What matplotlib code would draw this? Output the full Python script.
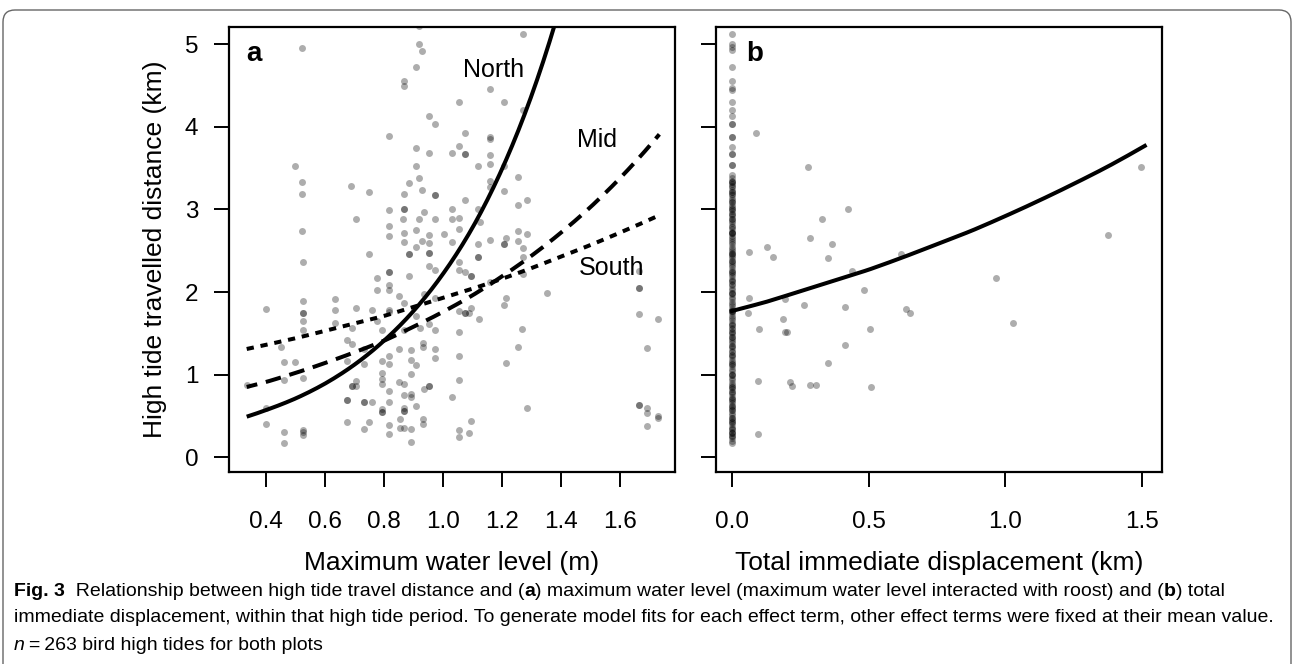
import numpy as np
import matplotlib
matplotlib.use("Agg")
import matplotlib.pyplot as plt
from matplotlib.patches import FancyBboxPatch
from matplotlib.transforms import IdentityTransform

plt.rcParams['font.family'] = ['Liberation Sans', 'DejaVu Sans']

# ---------------- data ----------------
# Panel a: maximum water level (m) vs high tide travelled distance (km)
water_x = [
    0.524, 0.92, 0.928, 0.907, 0.867, 0.867, 0.953, 0.973, 0.818, 0.907, 0.953, 1.03, 0.50, 0.907,
    0.524, 0.92, 0.884, 0.524, 0.69, 0.749, 0.867, 0.928, 0.973, 0.973, 0.818, 0.867, 0.867, 0.937,
    1.03, 0.706, 0.865, 0.92, 0.973, 1.03, 0.524, 0.818, 0.818, 0.867, 0.907, 0.953, 1.003, 0.867,
    0.928, 0.953, 1.03, 0.907, 0.92,
    1.271, 1.159, 1.053, 1.206, 1.271, 1.076, 1.159, 1.159, 1.053, 1.076, 1.076, 1.159, 1.159, 1.118,
    1.206, 1.254, 1.159, 1.159, 1.206, 1.076, 1.286, 1.118, 1.254, 1.053, 1.125, 1.053, 1.254, 1.286,
    1.212, 1.159, 1.118, 1.206, 1.206, 1.254, 1.271,
    0.749, 0.884, 0.884, 0.953, 0.953, 0.525, 0.953, 0.973, 0.884, 0.775, 0.817, 0.817, 0.817, 0.775,
    0.817, 0.85, 0.937, 0.973, 0.40, 0.525, 0.525, 0.525, 0.525, 0.525, 0.634, 0.634, 0.634, 0.706,
    0.758, 0.775, 0.817, 0.817, 0.867, 0.867, 0.907, 0.923, 0.953, 0.973, 0.792, 0.693, 0.451, 0.676,
    0.693, 0.733, 0.676, 0.733, 0.792, 0.817, 0.817, 0.85, 0.89, 0.89, 0.932, 0.932, 0.907, 0.973,
    0.973, 0.461, 0.50, 0.525, 0.461, 0.40, 0.40, 0.461, 0.461, 0.525, 0.525, 0.525, 0.693, 0.693,
    0.706, 0.706, 0.676, 0.676, 0.733, 0.733, 0.758, 0.792, 0.792, 0.792, 0.676, 0.733, 0.749, 0.792,
    0.792, 0.792, 0.817, 0.817, 0.817, 0.817, 0.85, 0.867, 0.867, 0.89, 0.89, 0.867, 0.867, 0.867,
    0.855, 0.855, 0.867, 0.89, 0.89, 0.907, 0.937, 0.953, 0.953, 0.932, 0.932, 0.89, 1.03, 0.335,
    1.12, 1.12, 1.053, 1.053, 1.076, 1.095, 1.095, 1.271, 1.271, 1.159, 1.351, 1.212, 1.206, 1.053,
    1.076, 1.076, 1.088, 1.095, 1.122, 1.053, 1.267, 1.254, 1.212, 1.053, 1.053, 1.286, 1.095, 1.053,
    1.088, 1.053, 1.665, 1.665, 1.665, 1.665, 1.73, 1.69, 1.665, 1.665, 1.69, 1.69, 1.73, 1.73, 1.69,
]
travel_a = [
    4.96, 5.00, 4.92, 4.73, 4.56, 4.49, 4.13, 4.03, 3.89, 3.74, 3.68, 3.68, 3.53, 3.53,
    3.33, 3.38, 3.32, 3.19, 3.28, 3.21, 3.19, 3.24, 3.18, 3.18, 2.99, 3.01, 3.01, 2.97,
    3.01, 2.88, 2.89, 2.88, 2.88, 2.89, 2.74, 2.80, 2.68, 2.72, 2.75, 2.69, 2.70, 2.60,
    2.62, 2.59, 2.61, 2.55, 5.22,
    5.12, 4.46, 4.30, 4.30, 4.21, 3.93, 3.88, 3.85, 3.77, 3.67, 3.67, 3.66, 3.55, 3.53,
    3.53, 3.39, 3.34, 3.27, 3.22, 3.12, 3.11, 3.01, 3.05, 2.90, 2.85, 2.76, 2.74, 2.70,
    2.65, 2.63, 2.58, 2.58, 2.58, 2.62, 2.53,
    2.46, 2.46, 2.46, 2.47, 2.47, 2.36, 2.32, 2.27, 2.20, 2.17, 2.24, 2.24, 2.09, 2.03,
    2.02, 1.95, 1.98, 1.93, 1.79, 1.89, 1.74, 1.74, 1.65, 1.54, 1.92, 1.78, 1.63, 1.81,
    1.78, 1.65, 1.78, 1.76, 1.87, 1.54, 1.71, 1.56, 1.61, 1.54, 1.54, 1.56, 1.33, 1.42,
    1.37, 1.31, 1.17, 1.13, 1.16, 1.23, 1.13, 1.31, 1.30, 1.18, 1.38, 1.33, 1.11, 1.31,
    1.20, 1.15, 1.15, 0.96, 0.93, 0.59, 0.40, 0.30, 0.17, 0.33, 0.30, 0.27, 0.86, 0.86,
    0.92, 0.86, 0.69, 0.69, 0.67, 0.67, 0.67, 0.58, 0.55, 0.55, 0.42, 0.34, 0.42, 0.88,
    0.95, 1.02, 0.80, 0.67, 0.39, 0.28, 0.91, 0.89, 0.75, 0.77, 0.73, 0.59, 0.56, 0.56,
    0.46, 0.35, 0.35, 0.34, 0.18, 0.62, 0.82, 0.86, 0.86, 0.46, 0.40, 1.01, 0.73, 0.87,
    2.42, 2.42, 2.36, 2.27, 2.24, 2.19, 2.19, 2.42, 2.22, 2.12, 1.99, 1.93, 1.84, 1.77,
    1.74, 1.74, 1.74, 1.81, 1.67, 1.51, 1.55, 1.33, 1.14, 1.22, 0.93, 0.60, 0.44, 0.33,
    0.29, 0.24, 2.26, 2.05, 2.05, 1.73, 1.67, 1.32, 0.63, 0.63, 0.60, 0.54, 0.50, 0.48, 0.38,
]

# Model fits for each roost
fit_x = [0.335, 0.4, 0.5, 0.6, 0.7, 0.8, 0.9, 1.0, 1.1, 1.2, 1.3, 1.4, 1.5, 1.6, 1.733]
north_y = [0.49, 0.57, 0.71, 0.89, 1.12, 1.41, 1.77, 2.22, 2.78, 3.49, 4.38, 5.50, 6.9, 8.7, 11.6]
mid_y = [0.85, 0.91, 1.02, 1.14, 1.27, 1.41, 1.58, 1.76, 1.96, 2.19, 2.44, 2.72, 3.03, 3.38, 3.91]
south_y = [1.31, 1.36, 1.44, 1.53, 1.62, 1.71, 1.82, 1.93, 2.04, 2.16, 2.29, 2.43, 2.57, 2.72, 2.93]

# Panel b: total immediate displacement (km) vs travelled distance (km)
zero_disp_y = [
    5.12, 5.00, 4.97, 4.93, 4.73, 4.55, 4.47, 4.45, 4.30, 4.21, 4.13, 4.03, 4.03, 3.88, 3.88,
    3.76, 3.67, 3.67, 3.54, 3.54,
    3.42, 3.38, 3.35, 3.33, 3.31, 3.28, 3.27, 3.24, 3.21, 3.19, 3.17, 3.14, 3.11, 3.09, 3.06,
    3.03, 3.01, 3.01, 2.98, 2.95, 2.92, 2.89, 2.89, 2.86, 2.83, 2.80, 2.79, 2.76, 2.73, 2.71,
    2.71, 2.68, 2.65, 2.63, 2.60, 2.58, 2.55, 2.52, 2.50, 2.47, 2.46, 2.44, 2.41, 2.38, 2.35,
    2.33, 2.30, 2.27, 2.24, 2.22, 2.19, 2.16, 2.13, 2.10, 2.08, 2.05, 2.02, 1.99, 1.97, 1.94,
    1.91, 1.88, 1.85, 1.83, 1.80, 1.77, 1.77, 1.74, 1.71, 1.68, 1.66, 1.63, 1.60, 1.57, 1.55,
    1.52, 1.49, 1.46, 1.43, 1.41, 1.38, 1.35, 1.32, 1.29, 1.27, 1.24, 1.21, 1.18, 1.15, 1.13,
    1.10, 1.07, 1.04, 1.01, 0.99, 0.96, 0.93, 0.90, 0.87, 0.85, 0.82, 0.79, 0.76, 0.73, 0.71,
    0.68, 0.65, 0.62, 0.59, 0.57, 0.54, 0.51, 0.48, 0.45, 0.43, 0.40, 0.37, 0.34, 0.31, 0.29,
    0.26, 0.23, 0.20, 0.17,
    3.33, 3.21, 3.09, 2.95, 2.71, 2.46, 2.38, 2.24, 2.13, 1.99, 1.77, 1.60, 1.52, 1.46, 1.35,
    1.24, 1.13, 0.99, 0.85, 0.79, 0.71, 0.62, 0.57, 0.48, 0.43, 0.34, 0.29, 0.26,
]
disp_x = [
    0.09, 0.277, 0.425, 0.328, 0.286, 0.13, 0.367, 0.063, 0.151, 0.35, 0.617, 0.44, 0.482, 0.966,
    0.063, 0.193, 0.262, 0.415, 0.06, 0.637, 0.651, 0.187, 0.10, 0.193, 0.203, 0.504, 0.415, 0.35,
    0.096, 0.214, 0.22, 0.286, 0.307, 0.508, 0.094, 1.375, 1.027, 1.496,
]
travel_b = [
    3.93, 3.52, 3.01, 2.88, 2.65, 2.55, 2.58, 2.48, 2.42, 2.41, 2.46, 2.26, 2.03, 2.17,
    1.93, 1.92, 1.84, 1.82, 1.74, 1.79, 1.74, 1.67, 1.55, 1.51, 1.51, 1.55, 1.36, 1.14,
    0.92, 0.91, 0.86, 0.87, 0.87, 0.85, 0.28, 2.69, 1.63, 3.51,
]
fit_b_x = [0.0, 0.125, 0.25, 0.375, 0.5, 0.625, 0.75, 0.875, 1.0, 1.125, 1.25, 1.375, 1.51]
fit_b_y = [1.77, 1.88, 2.01, 2.14, 2.27, 2.42, 2.58, 2.74, 2.92, 3.11, 3.31, 3.52, 3.77]

xticks_a = [0.4, 0.6, 0.8, 1.0, 1.2, 1.4, 1.6]
xticks_b = [0.0, 0.5, 1.0, 1.5]
yticks = [0, 1, 2, 3, 4, 5]

# ---------------- figure ----------------
W, H = 1295, 664
fig = plt.figure(figsize=(W / 100, H / 100), dpi=100)


def frac(l, t, r, b):
    return [l / W, 1 - b / H, (r - l) / W, (b - t) / H]


axA = fig.add_axes(frac(229, 27, 675, 472))
axB = fig.add_axes(frac(716, 27, 1162, 472))

pt_kw = dict(s=25, c='black', alpha=0.32, linewidths=0)


def smooth(xs, ys, n=200):
    xd = np.linspace(xs[0], xs[-1], n)
    return xd, np.exp(np.interp(xd, xs, np.log(ys)))


axA.scatter(water_x, travel_a, **pt_kw)
lw = 2.9
xd, yd = smooth(fit_x, north_y)
axA.plot(xd, yd, color='black', lw=lw, solid_capstyle='butt')
xd, yd = smooth(fit_x, mid_y)
axA.plot(xd, yd, color='black', lw=lw, linestyle=(1.2, (3.9, 2.2)))
xd, yd = smooth(fit_x, south_y)
axA.plot(xd, yd, color='black', lw=lw, linestyle=(0, (1.8, 1.7)))

lab_fs = 18
axA.text(1.17, 4.69, 'North', fontsize=lab_fs, ha='center', va='center')
axA.text(1.522, 3.84, 'Mid', fontsize=lab_fs, ha='center', va='center')
axA.text(1.57, 2.29, 'South', fontsize=lab_fs, ha='center', va='center')
axA.text(0.056, 0.94, 'a', transform=axA.transAxes, fontsize=20, fontweight='bold',
         ha='center', va='center')

axB.scatter(np.zeros(len(zero_disp_y)), zero_disp_y, **pt_kw)
axB.scatter(disp_x, travel_b, **pt_kw)
xd, yd = smooth(fit_b_x, fit_b_y)
axB.plot(xd, yd, color='black', lw=lw)
axB.text(0.087, 0.94, 'b', transform=axB.transAxes, fontsize=20, fontweight='bold',
         ha='center', va='center')

for ax in (axA, axB):
    ax.set_ylim(-0.18, 5.21)
    ax.set_yticks(yticks)
    for sp in ax.spines.values():
        sp.set_linewidth(1.6)
    ax.tick_params(direction='out', length=11, width=1.4, labelsize=17.5)
    ax.tick_params(axis='x', pad=17)
    ax.tick_params(axis='y', pad=11)

axA.set_xlim(0.275, 1.786)
axA.set_xticks(xticks_a)
axA.set_xticklabels([f'{v:.1f}' for v in xticks_a])
axB.set_xlim(-0.058, 1.573)
axB.set_xticks(xticks_b)
axB.set_xticklabels([f'{v:.1f}' for v in xticks_b])
axB.tick_params(axis='y', labelleft=False)

ax_fs = 19
axA.set_ylabel('High tide travelled distance (km)', fontsize=ax_fs, ha='center', va='center')
axA.yaxis.set_label_coords(-0.165, 0.5)
axA.set_xlabel('Maximum water level (m)', fontsize=ax_fs, ha='center', va='center')
axA.xaxis.set_label_coords(0.5, -0.205)
axB.set_xlabel('Total immediate displacement (km)', fontsize=ax_fs, ha='center', va='center')
axB.xaxis.set_label_coords(0.5, -0.205)

# outer rounded frame
frame = FancyBboxPatch((3, -40), 1288, 654 + 40, boxstyle='round,pad=0,rounding_size=12',
                       transform=IdentityTransform(), fill=False, edgecolor='#666666', lw=1.0)
fig.patches.append(frame)

# caption with mixed weights
cap_font = ['Liberation Sans', 'DejaVu Sans']
cap_size = 14.0
lines = [
    [('Fig. 3', 'bold', 'normal'), ('  Relationship between high tide travel distance and (', 'normal', 'normal'),
     ('a', 'bold', 'normal'), (') maximum water level (maximum water level interacted with roost) and (', 'normal', 'normal'),
     ('b', 'bold', 'normal'), (') total', 'normal', 'normal')],
    [('immediate displacement, within that high tide period. To generate model fits for each effect term, '
      'other effect terms were fixed at their mean value.', 'normal', 'normal')],
    [('n', 'normal', 'italic'), ('\u2009=\u2009263 bird high tides for both plots', 'normal', 'normal')],
]
line_y = [591, 618, 645]
renderer = fig.canvas.get_renderer()
for runs, yc in zip(lines, line_y):
    x = 14
    for txt, wt, st in runs:
        t = fig.text(x / W, 1 - yc / H, txt, fontsize=cap_size, fontweight=wt, fontstyle=st,
                     family=cap_font, ha='left', va='center')
        bb = t.get_window_extent(renderer=renderer)
        x += bb.width

fig.savefig('out.png', dpi=100)
